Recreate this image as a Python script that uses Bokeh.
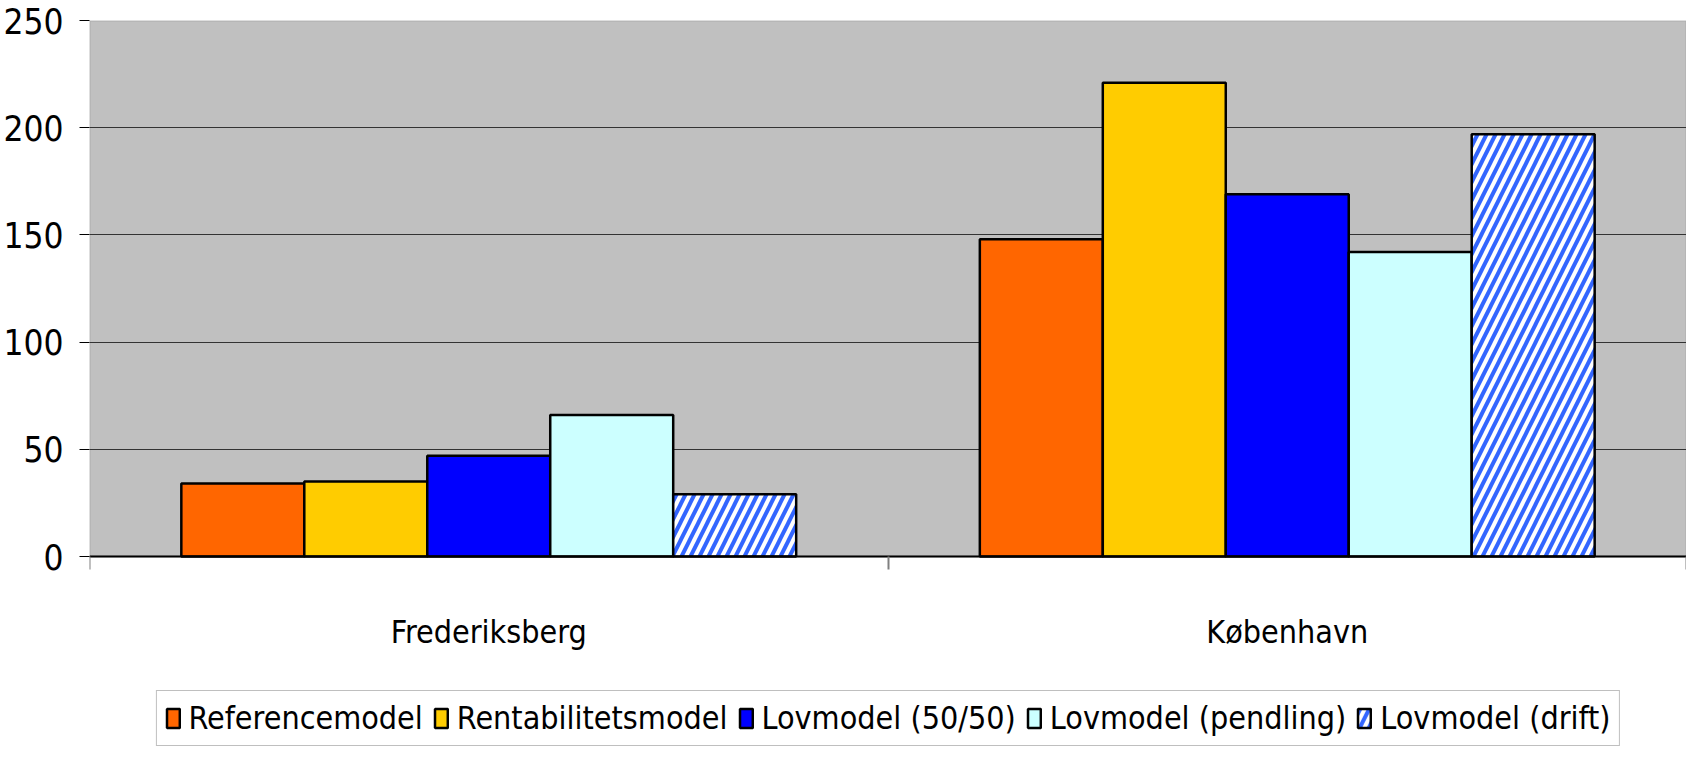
from bokeh.plotting import figure
from bokeh.models import ColumnDataSource, Range1d, FixedTicker, Legend, LegendItem, BoxAnnotation
from bokeh.transform import dodge
from bokeh.embed import file_html
from bokeh.resources import INLINE

cities = ["Frederiksberg", "København"]
series = ["Referencemodel", "Rentabilitetsmodel", "Lovmodel (50/50)", "Lovmodel (pendling)", "Lovmodel (drift)"]
referencemodel = [34, 148]
rentabilitetsmodel = [35, 221]
lovmodel_5050 = [47, 169]
lovmodel_pendling = [66, 142]
lovmodel_drift = [29, 197]
y_ticks = [0, 50, 100, 150, 200, 250]

colors = ["#FF6600", "#FFCC00", "#0000FF", "#CCFFFF", "#FFFFFF"]
FONT = "DejaVu Sans Condensed"

# category slots on a linear scale: slot k spans [k, k+1], centre k+0.5
centres = [k + 0.5 for k in range(len(cities))]
edges = list(range(len(cities) + 1))

source = ColumnDataSource(dict(x=centres, s0=referencemodel, s1=rentabilitetsmodel,
                               s2=lovmodel_5050, s3=lovmodel_pendling, s4=lovmodel_drift))

# frame reaches the bottom of the window; the chart area is the 0..250 band,
# the space below zero holds the category labels and the legend
px_per_unit = 536 / 250.0
y_bottom = -196 / px_per_unit

p = figure(x_range=Range1d(0, len(cities)), y_range=Range1d(y_bottom, 250),
           frame_width=1597, frame_height=732, output_backend="svg", toolbar_location=None,
           min_border_left=86, min_border_right=0, min_border_top=20, min_border_bottom=0)
p.background_fill_color = "white"
p.border_fill_color = "white"
p.outline_line_color = None

band = BoxAnnotation(bottom=0, top=250, fill_color="#C0C0C0", fill_alpha=1,
                     line_color="#808080", line_width=2, level="image")
p.add_layout(band)

p.xgrid.grid_line_color = None
p.ygrid.grid_line_color = "#333333"
p.ygrid.grid_line_width = 1
p.ygrid.ticker = FixedTicker(ticks=y_ticks[1:])

yax = p.yaxis[0]
yax.ticker = FixedTicker(ticks=y_ticks)
yax.axis_line_color = None
yax.major_tick_line_color = "black"
yax.major_tick_out = 10
yax.major_tick_in = 0
yax.minor_tick_line_color = None
yax.major_label_text_font = FONT
yax.major_label_text_font_size = "35px"
yax.major_label_text_color = "black"
yax.major_label_standoff = 16

xax = p.xaxis[0]
xax.fixed_location = 0
xax.ticker = FixedTicker(ticks=centres, minor_ticks=edges)
xax.major_label_overrides = {c: name for c, name in zip(centres, cities)}
xax.major_tick_line_color = None
xax.major_tick_out = 0
xax.major_tick_in = 0
xax.minor_tick_line_color = "#808080"
xax.minor_tick_line_width = 2
xax.minor_tick_out = 13
xax.minor_tick_in = 0
xax.axis_line_color = "black"
xax.axis_line_width = 2
xax.major_label_text_font = FONT
xax.major_label_text_font_size = "32px"
xax.major_label_text_color = "black"
xax.major_label_standoff = 43

bw = 0.154
items = []
for i, name in enumerate(series):
    kw = dict(x=dodge("x", (i - 2) * bw), top="s%d" % i, width=bw,
              source=source, fill_color=colors[i], line_color="black", line_width=2.5)
    if i == 4:
        kw.update(hatch_pattern="/", hatch_color="#3366FF", hatch_weight=4, hatch_scale=18)
    r = p.vbar(**kw)
    items.append(LegendItem(label=name, renderers=[r]))

legend = Legend(items=items, orientation="horizontal", location="bottom_center",
                label_text_font=FONT, label_text_font_size="32px", label_text_color="black",
                glyph_width=16, glyph_height=24, label_standoff=8, spacing=10,
                padding=8, margin=6, border_line_color="#808080", border_line_width=1.5,
                background_fill_color="white", background_fill_alpha=1)
p.add_layout(legend, "center")

open("out.html", "w").write(file_html(p, INLINE))
